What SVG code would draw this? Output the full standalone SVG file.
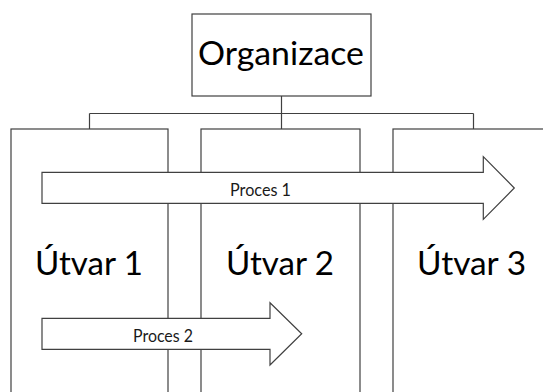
<svg xmlns="http://www.w3.org/2000/svg" width="543" height="392" viewBox="0 0 543 392">
  <style>
    .box { fill: #ffffff; stroke: #404040; stroke-width: 1.2; }
    .conn { fill: none; stroke: #404040; stroke-width: 1.2; }
    .big { font-family: Lato, "Liberation Sans", sans-serif; font-size: 32px; fill: #000000; text-anchor: middle; }
    .small { font-family: Lato, "Liberation Sans", sans-serif; font-size: 17px; fill: #1a1a1a; }
  </style>
  <rect width="543" height="392" fill="#ffffff"/>

  <!-- tree lines from the top box down to the three departments -->
  <g id="connectors">
    <path class="conn" d="M281.5 96 V129 M89.5 113.5 H473.5 M89.5 113.5 V129 M473.5 113.5 V129"/>
  </g>

  <g id="node-organizace">
    <rect class="box" x="192" y="14" width="179" height="82"/>
    <text class="big" x="281" y="65" textLength="166" lengthAdjust="spacingAndGlyphs">Organizace</text>
  </g>

  <g id="node-utvar1">
    <rect class="box" x="11" y="129" width="157" height="300"/>
    <text class="big" x="89" y="275" textLength="108" lengthAdjust="spacingAndGlyphs">Útvar 1</text>
  </g>

  <g id="node-utvar2">
    <rect class="box" x="201" y="129" width="159" height="300"/>
    <text class="big" x="280" y="275" textLength="108" lengthAdjust="spacingAndGlyphs">Útvar 2</text>
  </g>

  <g id="node-utvar3">
    <rect class="box" x="393" y="129" width="160" height="300"/>
    <text class="big" x="471.5" y="275" textLength="109" lengthAdjust="spacingAndGlyphs">Útvar 3</text>
  </g>

  <!-- process arrows laid across the departments -->
  <g id="node-proces1">
    <polygon class="box" points="42,172.3 483.3,172.3 483.3,156.7 514.3,188 483.3,219.3 483.3,203.3 42,203.3"/>
    <text class="small" x="230" y="196" textLength="61" lengthAdjust="spacingAndGlyphs">Proces 1</text>
  </g>

  <g id="node-proces2">
    <polygon class="box" points="42,318.3 270,318.3 270,302.7 301.7,333.8 270,365 270,349.3 42,349.3"/>
    <text class="small" x="133" y="342" textLength="60" lengthAdjust="spacingAndGlyphs">Proces 2</text>
  </g>
</svg>
